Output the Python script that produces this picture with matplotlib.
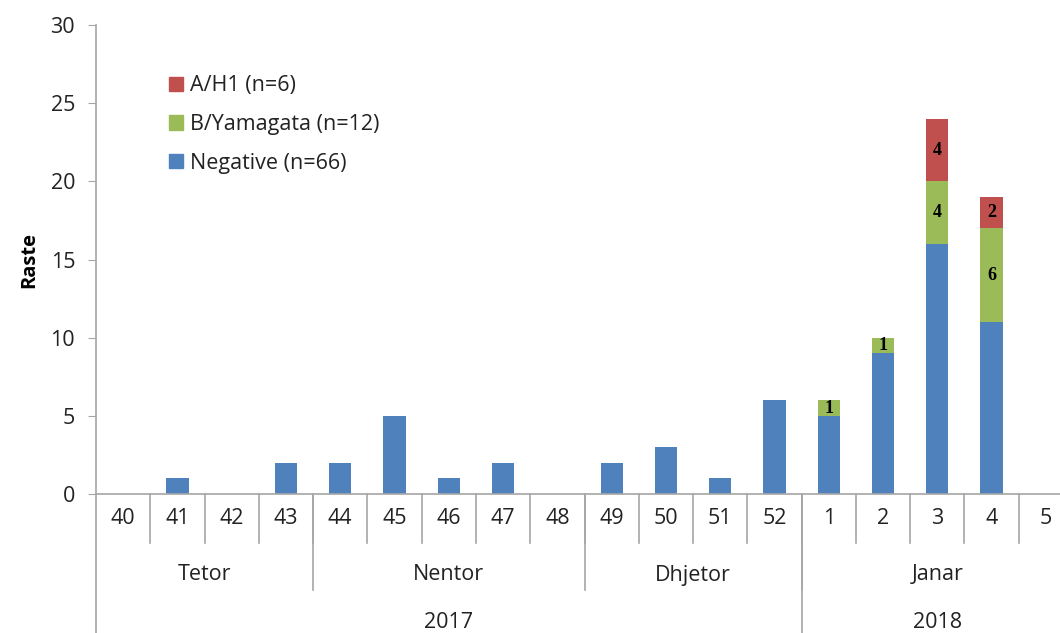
import matplotlib
matplotlib.use("Agg")
import matplotlib.pyplot as plt
from matplotlib.lines import Line2D
from matplotlib.patches import Patch
import numpy as np

weeks = ["40", "41", "42", "43", "44", "45", "46", "47", "48", "49", "50", "51", "52",
         "1", "2", "3", "4", "5"]
negative = [0, 1, 0, 2, 2, 5, 1, 2, 0, 2, 3, 1, 6, 5, 9, 16, 11, 0]
b_yamagata = [0, 0, 0, 0, 0, 0, 0, 0, 0, 0, 0, 0, 0, 1, 1, 4, 6, 0]
a_h1 = [0, 0, 0, 0, 0, 0, 0, 0, 0, 0, 0, 0, 0, 0, 0, 4, 2, 0]
months = ["Tetor", "Nentor", "Dhjetor", "Janar"]
month_spans = [(0, 3), (4, 8), (9, 12), (13, 17)]
years = ["2017", "2018"]
year_spans = [(0, 12), (13, 17)]
legend_labels = ["A/H1 (n=6)", "B/Yamagata (n=12)", "Negative (n=66)"]
y_label = "Raste"

c_neg = "#4F81BD"
c_b = "#9BBB59"
c_a = "#C0504D"
grey = "#A6A6A6"
font = "Open Sans"
fs = 15.5
tc = "#222222"

fig = plt.figure(figsize=(10.6, 6.33), dpi=100)
W, H = 1060, 633
ax_left, ax_right, ax_top, ax_bot = 96, 1073, 25, 494
ax = fig.add_axes([ax_left / W, 1 - ax_bot / H, (ax_right - ax_left) / W, (ax_bot - ax_top) / H])
axh = ax_bot - ax_top

x = np.arange(len(weeks))
neg = np.array(negative)
bb = np.array(b_yamagata)
aa = np.array(a_h1)
bw = 0.41
ax.bar(x, neg, bw, color=c_neg, zorder=2)
ax.bar(x, bb, bw, bottom=neg, color=c_b, zorder=2)
ax.bar(x, aa, bw, bottom=neg + bb, color=c_a, zorder=2)

for i in range(len(x)):
    if bb[i] > 0:
        ax.text(x[i], neg[i] + bb[i] / 2, str(bb[i]), ha="center", va="center",
                family="Liberation Serif", fontsize=13, fontweight="bold", color="black", zorder=3)
    if aa[i] > 0:
        ax.text(x[i], neg[i] + bb[i] + aa[i] / 2, str(aa[i]), ha="center", va="center",
                family="Liberation Serif", fontsize=13, fontweight="bold", color="black", zorder=3)

ax.set_xlim(-0.5, len(weeks) - 0.5)
ax.set_ylim(0, 30)
ax.set_yticks(range(0, 31, 5))
ax.tick_params(axis="y", direction="out", length=6, color=grey, labelsize=fs, pad=9)
for lab in ax.get_yticklabels():
    lab.set_family(font)
    lab.set_color(tc)
ax.set_xticks([])
for s in ["top", "right"]:
    ax.spines[s].set_visible(False)
ax.spines["left"].set_visible(False)
ax.spines["bottom"].set_color(grey)
ax.spines["bottom"].set_linewidth(1.2)

ax.set_ylabel(y_label, family=font, fontsize=14.5, fontweight="bold", labelpad=8)

tr = ax.get_xaxis_transform()
def yfrac(py):
    return -(py - ax_bot) / axh

# left axis line extended
ax.add_line(Line2D([-0.5, -0.5], [1.0, yfrac(640)], transform=tr, color=grey, lw=1.2, clip_on=False))

# week labels and separators
for i, w in enumerate(weeks):
    ax.text(x[i], yfrac(518), w, transform=tr, ha="center", va="center",
            family=font, fontsize=fs, color=tc)
for i in range(1, len(weeks)):
    ax.add_line(Line2D([i - 0.5, i - 0.5], [0, yfrac(543)], transform=tr, color=grey, lw=1.2, clip_on=False))

# month labels and separators
for m, (s, e) in zip(months, month_spans):
    ax.text((s + e) / 2, yfrac(575), m, transform=tr, ha="center", va="center",
            family=font, fontsize=fs, color=tc)
for s, e in month_spans[1:]:
    ax.add_line(Line2D([s - 0.5, s - 0.5], [0, yfrac(590)], transform=tr, color=grey, lw=1.2, clip_on=False))

# year labels and separators
for yv, (s, e) in zip(years, year_spans):
    ax.text((s + e) / 2, yfrac(622), yv, transform=tr, ha="center", va="center",
            family=font, fontsize=fs, color=tc)
for s, e in year_spans[1:]:
    ax.add_line(Line2D([s - 0.5, s - 0.5], [0, yfrac(640)], transform=tr, color=grey, lw=1.2, clip_on=False))

handles = [Patch(color=c_a), Patch(color=c_b), Patch(color=c_neg)]
leg = ax.legend(handles, legend_labels, loc="upper left",
                bbox_to_anchor=((150 - ax_left) / (ax_right - ax_left), 1 - (56 - ax_top) / axh),
                frameon=False, handlelength=0.65, handleheight=0.65, handletextpad=0.3,
                labelspacing=0.82, prop={"family": font, "size": fs})
for t in leg.get_texts():
    t.set_color(tc)

fig.savefig("out.png", dpi=100)
